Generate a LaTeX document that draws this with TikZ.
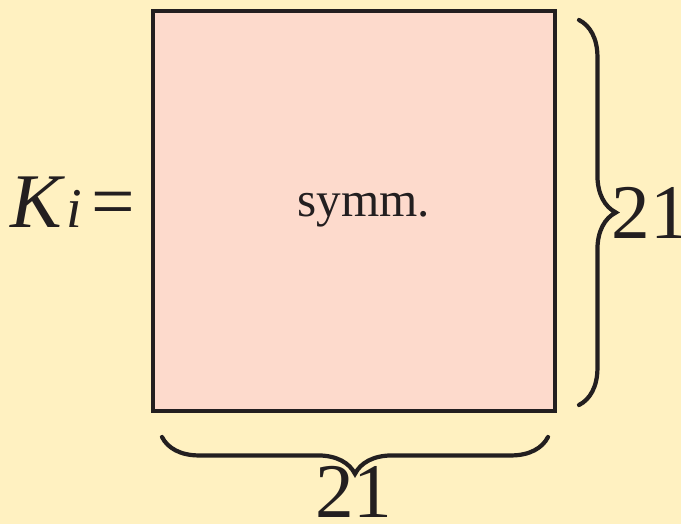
\documentclass[tikz,border=0pt]{standalone}
\usepackage{fontspec}
\setmainfont{Liberation Serif}
\usetikzlibrary{decorations.pathreplacing}
\definecolor{bgyellow}{HTML}{FFF1C1}
\definecolor{boxpink}{HTML}{FDDACC}
\definecolor{inkgray}{HTML}{231F20}
\tikzset{
  bigtext/.style={inner sep=0pt,text=inkgray,font=\fontsize{44}{48}\selectfont},
  bracket/.style={draw=inkgray,line width=2.4pt,line cap=round,
    decorate,decoration={brace,amplitude=21}}
}

\begin{document}
\begin{tikzpicture}[x=0.02cm,y=-0.02cm]
  \fill[bgyellow] (0,0) rectangle (681,524);
  \useasboundingbox (0,0) rectangle (681,524);
  \draw[inkgray,fill=boxpink,line width=2pt] (153,11) rectangle (555,411);
  \node[inner sep=0pt,text=inkgray,font=\fontsize{28}{32}\selectfont] (symm) at (364,210) {symm.};
  \node[bigtext,anchor=base west] (lhs) at (10,228) {\textit{K}\kern1pt{\fontsize{32}{34}\selectfont\itshape i}\kern5pt=};
  \coordinate (rtop) at (579,20);
  \coordinate (rbot) at (579,405);
  \coordinate (bleft) at (162,437);
  \coordinate (bright) at (548,437);
  \draw[bracket] (rtop) -- (rbot);
  \draw[bracket] (bright) -- (bleft);
  \node[bigtext,anchor=base west] (rnum) at (611,238) {21};
  \node[bigtext,anchor=base] (bnum) at (354,518) {21};
\end{tikzpicture}
\end{document}
